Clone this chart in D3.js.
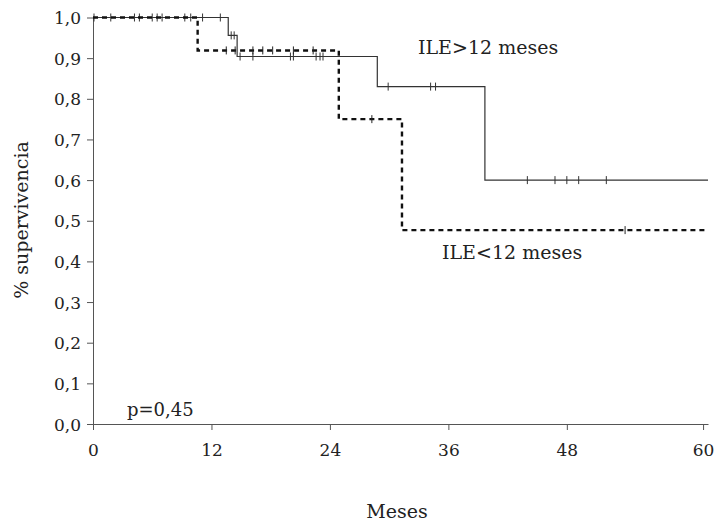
<!DOCTYPE html>
<html>
<head>
  <meta charset='utf-8'>
  <title>Supervivencia ILE</title>
  <script src="https://cdn.jsdelivr.net/npm/d3@7"></script>
  <style>
    body { margin: 0; background: #fff; }
    text { font-family: 'DejaVu Serif', 'Liberation Serif', serif; fill: #222; }
  </style>
</head>
<body>
  <svg width=714 height=526></svg>
</body>
</html>

<script>

  // step curves: time of each step (months) and survival from that time
  let longTimes = [0, 13.7, 14.6, 28.8, 39.7];
  let longSurv = [1.0, 0.956, 0.904, 0.83, 0.60];
  let longCensor = [0.1, 1.8, 4.2, 4.7, 6.0, 6.5, 7.0, 9.3, 9.9, 11.1, 12.9,
                    14.0, 14.3, 14.9, 16.2, 20.0, 20.3, 22.6, 23.0, 23.3,
                    29.9, 34.2, 34.7, 44.0, 46.8, 48.0, 49.2, 52.0];

  let shortTimes = [0, 10.6, 24.9, 31.3];
  let shortSurv = [1.0, 0.919, 0.75, 0.477];
  let shortCensor = [13.5, 14.4, 16.2, 17.2, 18.2, 20.3, 22.3, 28.25, 53.9];

  let endTime = 62.3;
  let yTicks = [0, 0.1, 0.2, 0.3, 0.4, 0.5, 0.6, 0.7, 0.8, 0.9, 1.0];
  let xTickVals = [0, 12, 24, 36, 48, 61.8];
  let xTickLabels = ['0', '12', '24', '36', '48', '60'];

  let svg = d3.select('svg');

  let x = d3.scaleLinear().domain([0, endTime]).range([93, 708]);
  let y = d3.scaleLinear().domain([0, 1]).range([424, 17.5]);

  let comma = d3.formatLocale({decimal: ',', thousands: '.', grouping: [3], currency: ['', '']}).format('.1f');

  let yAxis = svg.append('g')
    .attr('transform', `translate(${x(0)},0)`)
    .call(d3.axisLeft(y).tickValues(yTicks).tickFormat(comma).tickSize(6).tickSizeOuter(0).tickPadding(6));

  let xAxis = svg.append('g')
    .attr('transform', `translate(0,${y(0)})`)
    .call(d3.axisBottom(x).tickValues(xTickVals).tickFormat((d, i) => xTickLabels[i]).tickSize(6).tickSizeOuter(0).tickPadding(12));

  [yAxis, xAxis].forEach(function(g) {
    g.selectAll('path, line').attr('stroke', '#555');
    g.selectAll('text').attr('font-size', '17px').attr('fill', '#222')
      .style('font-family', "'DejaVu Serif', serif");
  });
  yAxis.selectAll('text').attr('dy', '0.36em');
  xAxis.selectAll('text').attr('dy', '0.85em');

  function stepAt(times, surv, t) {
    let v = surv[0];
    times.forEach((tt, i) => { if (tt <= t) v = surv[i]; });
    return v;
  }

  function points(times, surv) {
    let p = times.map((t, i) => [t, surv[i]]);
    p.push([endTime, surv[surv.length - 1]]);
    return p;
  }

  let line = d3.line()
    .x(d => x(d[0]))
    .y(d => y(d[1]))
    .curve(d3.curveStepAfter);

  // ILE > 12 meses, solid
  svg.append('path')
    .attr('d', line(points(longTimes, longSurv)))
    .attr('fill', 'none')
    .attr('stroke', '#333')
    .attr('stroke-width', 1.2);

  svg.selectAll('.c1')
    .data(longCensor)
    .enter().append('line')
      .attr('class', 'c1')
      .attr('x1', d => x(d)).attr('x2', d => x(d))
      .attr('y1', d => y(stepAt(longTimes, longSurv, d)) - 4)
      .attr('y2', d => y(stepAt(longTimes, longSurv, d)) + 4)
      .attr('stroke', '#333')
      .attr('stroke-width', 1);

  // ILE < 12 meses, dashed
  svg.append('path')
    .attr('d', line(points(shortTimes, shortSurv)))
    .attr('fill', 'none')
    .attr('stroke', '#111')
    .attr('stroke-width', 2.4)
    .attr('stroke-dasharray', '5,4');

  svg.selectAll('.c2')
    .data(shortCensor)
    .enter().append('line')
      .attr('class', 'c2')
      .attr('x1', d => x(d)).attr('x2', d => x(d))
      .attr('y1', d => y(stepAt(shortTimes, shortSurv, d)) - 4)
      .attr('y2', d => y(stepAt(shortTimes, shortSurv, d)) + 4)
      .attr('stroke', '#222')
      .attr('stroke-width', 1);

  // labels
  svg.append('text').attr('x', 418).attr('y', 54).attr('font-size', '19px').text('ILE>12 meses');
  svg.append('text').attr('x', 442).attr('y', 259).attr('font-size', '19px').text('ILE<12 meses');
  svg.append('text').attr('x', 127).attr('y', 416).attr('font-size', '18px').text('p=0,45');

  svg.append('text')
    .attr('transform', 'translate(28,220) rotate(-90)')
    .attr('text-anchor', 'middle')
    .attr('font-size', '19px')
    .text('% supervivencia');

  svg.append('text')
    .attr('x', 397).attr('y', 518)
    .attr('text-anchor', 'middle')
    .attr('font-size', '19px')
    .text('Meses');

</script>
